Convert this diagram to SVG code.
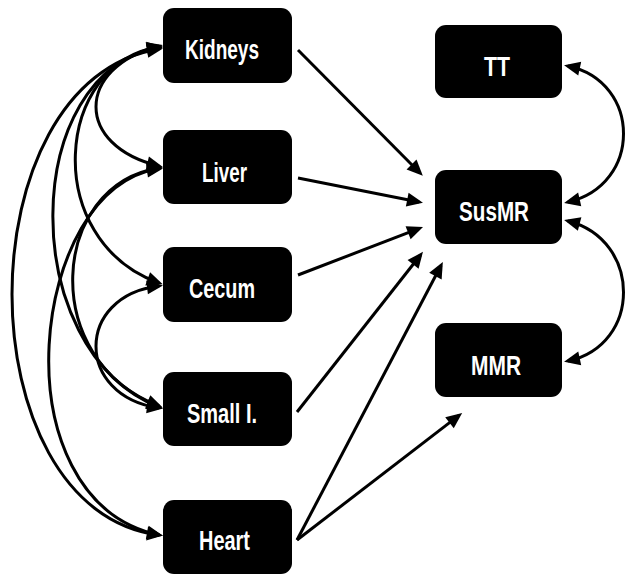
<svg xmlns="http://www.w3.org/2000/svg" width="625" height="575" viewBox="0 0 625 575">
<style>
.box{fill:#000;}
.lbl{fill:#fff;font-family:"Liberation Sans",Arial,sans-serif;font-size:28px;font-weight:bold;}
.e{fill:none;stroke:#000;stroke-width:3;}
</style>
<defs>
<marker id="ah" markerUnits="userSpaceOnUse" markerWidth="17" markerHeight="15" refX="12" refY="7" orient="auto-start-reverse" overflow="visible">
<path d="M0,0 L16,7 L0,14 z" fill="#000"/>
</marker>
</defs>
<rect width="625" height="575" fill="#fff"/>
<g id="connectors">
<path class="e" marker-start="url(#ah)" marker-end="url(#ah)" d="M159,46 C75,68 75,146 159,166"/>
<path class="e" marker-start="url(#ah)" marker-end="url(#ah)" d="M159,47 C55,62 40,240 159,283"/>
<path class="e" marker-start="url(#ah)" marker-end="url(#ah)" d="M159,48 C20,70 15,350 159,407"/>
<path class="e" marker-start="url(#ah)" marker-end="url(#ah)" d="M159,49 C-37,80 -37,510 159,535"/>
<path class="e" marker-start="url(#ah)" marker-end="url(#ah)" d="M159,168 C50,185 38,360 159,406"/>
<path class="e" marker-start="url(#ah)" marker-end="url(#ah)" d="M159,169 C30,185 -5,500 159,535"/>
<path class="e" marker-start="url(#ah)" marker-end="url(#ah)" d="M159,286 C75,296 75,396 159,408"/>
<path class="e" marker-end="url(#ah)" d="M298,50 L420,173"/>
<path class="e" marker-end="url(#ah)" d="M298,178 L419,202"/>
<path class="e" marker-end="url(#ah)" d="M298,275 L419.3,228.4"/>
<path class="e" marker-end="url(#ah)" d="M297,412 L420.5,255"/>
<path class="e" marker-end="url(#ah)" d="M297,540 L441,265.5"/>
<path class="e" marker-end="url(#ah)" d="M297,540 L459,415.4"/>
<path class="e" marker-start="url(#ah)" marker-end="url(#ah)" d="M568,66 C642,82 642,185 568,202"/>
<path class="e" marker-start="url(#ah)" marker-end="url(#ah)" d="M568,221 C642,240 642,345 568,361"/>
</g>
<g id="kidneys"><rect class="box" x="163" y="8" width="129" height="75" rx="11"/><text class="lbl" x="185" y="59" textLength="74" lengthAdjust="spacingAndGlyphs">Kidneys</text></g>
<g id="liver"><rect class="box" x="163" y="130" width="129" height="74" rx="11"/><text class="lbl" x="202" y="182" textLength="45" lengthAdjust="spacingAndGlyphs">Liver</text></g>
<g id="cecum"><rect class="box" x="163" y="247" width="129" height="75" rx="11"/><text class="lbl" x="189" y="298" textLength="66" lengthAdjust="spacingAndGlyphs">Cecum</text></g>
<g id="smalli"><rect class="box" x="163" y="372" width="129" height="74" rx="11"/><text class="lbl" x="187" y="423" textLength="70" lengthAdjust="spacingAndGlyphs">Small I.</text></g>
<g id="heart"><rect class="box" x="163" y="500" width="129" height="74" rx="11"/><text class="lbl" x="199" y="550" textLength="51" lengthAdjust="spacingAndGlyphs">Heart</text></g>
<g id="tt"><rect class="box" x="435" y="25" width="127" height="73" rx="11"/><text class="lbl" x="484" y="76" textLength="26" lengthAdjust="spacingAndGlyphs">TT</text></g>
<g id="susmr"><rect class="box" x="435" y="170" width="127" height="74" rx="11"/><text class="lbl" x="459" y="221" textLength="70" lengthAdjust="spacingAndGlyphs">SusMR</text></g>
<g id="mmr"><rect class="box" x="435" y="323" width="127" height="74" rx="11"/><text class="lbl" x="471" y="375" textLength="50" lengthAdjust="spacingAndGlyphs">MMR</text></g>
</svg>
